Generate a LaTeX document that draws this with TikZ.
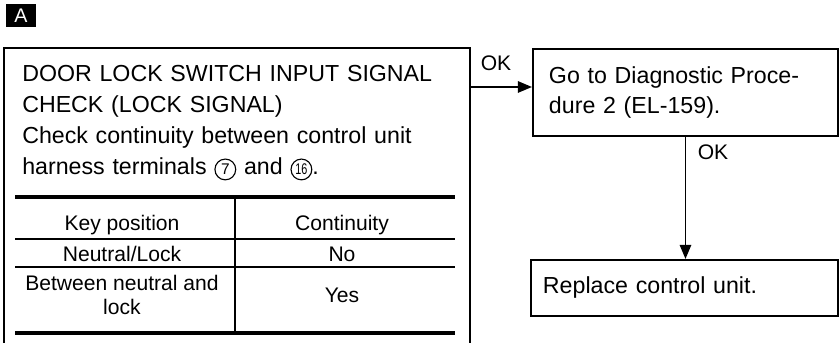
\documentclass[tikz,border=0pt]{standalone}
\usepackage{fontspec}
\setmainfont{Liberation Sans}
\usetikzlibrary{arrows.meta}

\newcommand{\circnum}[1]{\tikz[baseline=(n.base)]\node[circle,draw,line width=0.8pt,inner sep=0pt,minimum size=0.52cm,font=\fontsize{11}{11}\selectfont](n){#1};}

\begin{document}
\begin{tikzpicture}[>={Triangle[length=10pt,width=8pt]},
box/.style={draw,line width=1.4pt,inner sep=0pt},
txt/.style={font=\fontsize{16.5}{22}\selectfont},
cell/.style={font=\fontsize{15}{17}\selectfont,align=center,inner sep=0pt}]
\useasboundingbox (0,0) rectangle (21,8.575);
\clip (0,0) rectangle (21,8.575);
% label
\node[fill=black,text=white,minimum width=0.75cm,minimum height=0.575cm,inner sep=0pt,font=\fontsize{14}{14}\selectfont] (tag) at (0.525,8.1875) {A};
% boxes
\node[box,anchor=north west,minimum width=11.65cm,minimum height=8cm] (check) at (0.075,7.4) {};
\node[txt,anchor=base west,text width=11cm,align=left,inner sep=0pt] (checktxt) at (0.55,6.525)
{DOOR LOCK SWITCH INPUT SIGNAL\\CHECK (LOCK SIGNAL)\\Check continuity between control unit\\harness terminals \circnum{7} and \circnum{\scalebox{0.7}[1]{16}}.};
\node[box,txt,anchor=north west,minimum width=7.625cm,minimum height=2.175cm,text width=6.825cm,inner xsep=0.4cm,align=left] (goto) at (13.3,7.375) {Go to Diagnostic Proce-\\dure 2 (EL-159).};
\node[box,txt,anchor=north west,minimum width=7.675cm,minimum height=1.4cm,text width=7.075cm,inner xsep=0.3cm,align=left] (replace) at (13.25,2.1) {Replace control unit.};
% table
\draw[line width=2.8pt](0.375,3.65)--(11.375,3.65)
(0.375,0.25)--(11.375,0.25);
\draw[line width=1.2pt](0.375,2.6)--(11.375,2.6)
(0.375,1.9)--(11.375,1.9)
(5.875,3.65)--(5.875,0.25);
\node[cell] (keyhead) at (3.05,2.95) {Key position};
\node[cell] (conthead) at (8.55,2.95) {Continuity};
\node[cell] (keyone) at (3.05,2.225) {Neutral/Lock};
\node[cell] (contone) at (8.55,2.225) {No};
\node[cell,font=\fontsize{15}{17.5}\selectfont] (keytwo) at (3.05,1.2) {Between neutral and\\lock};
\node[cell] (conttwo) at (8.55,1.2) {Yes};
% connectors
\draw[->,line width=1.4pt](check.east |- 0,6.4)--(goto.west |- 0,6.4);
\draw[->,line width=1.4pt](goto.south)--(goto.south |- replace.north);
\node[font=\fontsize{15}{15}\selectfont] (okright) at (12.4,7.0) {OK};
\node[font=\fontsize{15}{15}\selectfont] (okdown) at (17.825,4.775) {OK};
\end{tikzpicture}
\end{document}
